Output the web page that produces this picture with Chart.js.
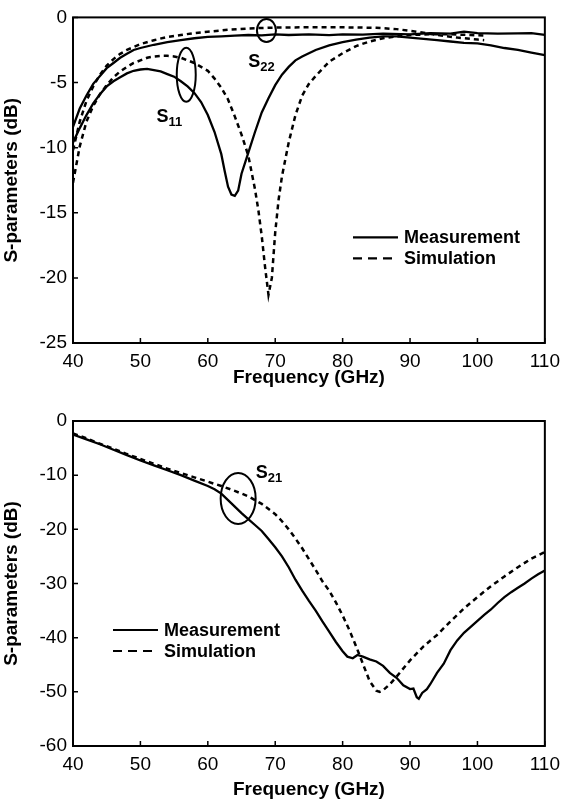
<!DOCTYPE html>
<html>
<head>
<meta charset="utf-8">
<script src="https://cdn.jsdelivr.net/npm/chart.js@4.4.1/dist/chart.umd.min.js"></script>
<style>
html, body { margin: 0; padding: 0; background: #fff; }
canvas { display: block; }
</style>
</head>
<body>
<canvas id="chartTop" width="567" height="395"></canvas>
<canvas id="chartBottom" width="567" height="406"></canvas>
<script>
// ---- top panel: S11 / S22 (dB vs GHz) ----
var s22MeasFreq = [40, 41, 42, 43, 44, 45, 46, 47, 48, 49, 50, 52, 54, 56, 58, 60, 62, 64, 66, 68, 70, 72, 75, 78, 80, 83, 86, 90, 93, 96, 98, 100, 103, 106, 108, 110];
var s22MeasDb   = [-8.4, -7.0, -6.0, -5.1, -4.5, -3.9, -3.5, -3.1, -2.8, -2.5, -2.35, -2.1, -1.9, -1.75, -1.6, -1.5, -1.45, -1.4, -1.35, -1.38, -1.3, -1.35, -1.3, -1.36, -1.3, -1.32, -1.25, -1.3, -1.2, -1.25, -1.1, -1.2, -1.25, -1.22, -1.2, -1.35];

var s11MeasFreq = [40, 41, 42, 43, 44, 45, 46, 47, 48, 49, 50, 51, 52, 53, 54, 55, 56, 57, 58, 59, 60, 61, 62, 62.5, 63, 63.5, 64, 64.5, 65, 66, 67, 68, 69, 70, 71, 72, 73, 74, 75, 76, 78, 80, 82, 84, 86, 88, 90, 92, 94, 96, 98, 100, 102, 104, 106, 108, 110];
var s11MeasDb   = [-9.6, -8.5, -7.5, -6.6, -5.9, -5.3, -4.9, -4.6, -4.3, -4.1, -4.0, -3.95, -4.05, -4.15, -4.35, -4.55, -4.9, -5.3, -5.8, -6.5, -7.5, -8.8, -10.5, -11.8, -13.0, -13.6, -13.7, -13.3, -12.0, -10.4, -8.8, -7.3, -6.2, -5.2, -4.4, -3.8, -3.3, -3.0, -2.75, -2.5, -2.15, -1.9, -1.7, -1.55, -1.45, -1.45, -1.55, -1.65, -1.75, -1.85, -1.95, -2.0, -2.15, -2.35, -2.5, -2.7, -2.9];

var s22SimFreq = [40, 41, 42, 43, 44, 45, 46, 47, 48, 50, 52, 54, 56, 58, 60, 63, 66, 70, 75, 80, 85, 88, 91, 94, 97, 100, 101];
var s22SimDb   = [-10.2, -8.0, -6.4, -5.3, -4.4, -3.7, -3.2, -2.8, -2.5, -2.05, -1.75, -1.5, -1.35, -1.2, -1.1, -0.95, -0.85, -0.78, -0.76, -0.76, -0.8, -0.9, -1.1, -1.35, -1.55, -1.7, -1.75];

var s11SimFreq = [40, 41, 42, 43, 44, 45, 46, 47, 48, 49, 50, 51, 52, 53, 54, 55, 56, 57, 58, 59, 60, 61, 62, 63, 64, 65, 66, 67, 67.5, 68, 68.5, 69, 69.5, 70, 70.5, 71, 72, 73, 74, 75, 76, 78, 80, 82, 84, 86, 88, 90, 93, 96, 99, 101];
var s11SimDb   = [-12.7, -9.9, -8.0, -6.8, -5.9, -5.2, -4.6, -4.15, -3.8, -3.5, -3.3, -3.1, -3.0, -2.95, -2.95, -3.0, -3.1, -3.3, -3.5, -3.8, -4.1, -4.7, -5.4, -6.3, -7.6, -9.0, -10.6, -13.2, -14.8, -16.8, -19.2, -21.3, -20.0, -16.5, -14.0, -12.2, -9.6, -7.5, -6.0, -5.1, -4.5, -3.4, -2.75, -2.2, -1.85, -1.6, -1.45, -1.35, -1.3, -1.3, -1.35, -1.4];

// ---- bottom panel: S21 ----
var s21MeasFreq = [40, 42, 44, 46, 48, 50, 52, 54, 56, 58, 60, 61, 62, 63, 64, 65, 66, 67, 68, 69, 70, 71, 72, 73, 74, 75, 76, 77, 78, 79, 80, 80.7, 81.5, 82.2, 83, 84, 85, 86, 87, 88, 89, 90, 90.5, 91, 91.3, 91.8, 92.5, 93, 94, 95, 96, 97, 98, 99, 100, 101, 102, 103, 104, 105, 106, 107, 108, 109, 110];
var s21MeasDb   = [-2.5, -3.4, -4.3, -5.3, -6.3, -7.3, -8.2, -9.1, -10.0, -11.0, -12.0, -12.6, -13.4, -14.6, -15.8, -17.0, -18.1, -19.2, -20.3, -21.8, -23.3, -25.0, -27.0, -29.3, -31.3, -33.2, -35.0, -37.0, -38.9, -40.8, -42.5, -43.5, -43.8, -43.2, -43.5, -44.0, -44.4, -45.2, -46.5, -47.4, -48.8, -49.5, -49.4, -51.0, -51.3, -50.2, -49.5, -48.6, -46.5, -44.8, -42.3, -40.5, -39.1, -38.0, -36.9, -35.8, -34.8, -33.6, -32.5, -31.6, -30.8, -30.0, -29.1, -28.3, -27.6];

var s21SimFreq = [40, 42, 44, 46, 48, 50, 52, 54, 56, 58, 60, 62, 64, 66, 68, 70, 71, 72, 73, 74, 75, 76, 77, 78, 79, 80, 81, 82, 83, 84, 85, 85.5, 86, 87, 88, 90, 92, 94, 96, 98, 100, 102, 104, 106, 108, 110];
var s21SimDb   = [-2.3, -3.2, -4.2, -5.1, -6.1, -7.0, -7.9, -8.8, -9.6, -10.4, -11.2, -12.0, -12.9, -13.9, -15.3, -17.2, -18.5, -20.0, -21.7, -23.5, -25.5, -27.5, -29.6, -31.3, -33.5, -35.9, -38.6, -41.6, -44.8, -48.0, -49.8, -50.0, -49.7, -48.6, -47.2, -44.2, -41.6, -39.5, -37.0, -34.6, -32.5, -30.5, -28.7, -27.0, -25.4, -24.2];

var freqTicks = [40, 50, 60, 70, 80, 90, 100, 110];

var FONT = '"Liberation Sans", Arial, Helvetica, sans-serif';

function toPoints(xs, ys) {
    return xs.map(function(x, i) { return {x: x, y: ys[i]}; });
}

function solid(label, xs, ys) {
    return { label: label, data: toPoints(xs, ys), borderColor: '#000', borderWidth: 2.3,
             pointRadius: 0, fill: false, tension: 0 };
}
function dashed(label, xs, ys) {
    return { label: label, data: toPoints(xs, ys), borderColor: '#000', borderWidth: 2.5,
             borderDash: [5, 4], pointRadius: 0, fill: false, tension: 0 };
}

// frame, inward tick marks, rings, S-labels and the legend
var marksPlugin = {
    id: 'marks',
    afterDraw: function(chart) {
        var ctx = chart.ctx, a = chart.chartArea;
        var xs = chart.scales.x, ys = chart.scales.y;
        var o = chart.options.plugins.marks;
        ctx.save();
        ctx.strokeStyle = '#000';
        ctx.fillStyle = '#000';
        ctx.lineWidth = 2;
        ctx.strokeRect(a.left, a.top, a.right - a.left, a.bottom - a.top);

        ctx.lineWidth = 1.5;
        ctx.beginPath();
        xs.ticks.forEach(function(t) {
            var px = xs.getPixelForValue(t.value);
            ctx.moveTo(px, a.bottom); ctx.lineTo(px, a.bottom - 5);
        });
        ys.ticks.forEach(function(t) {
            var py = ys.getPixelForValue(t.value);
            ctx.moveTo(a.left, py); ctx.lineTo(a.left + 5, py);
        });
        ctx.stroke();

        ctx.lineWidth = 2;
        o.rings.forEach(function(r) {
            ctx.beginPath();
            ctx.ellipse(xs.getPixelForValue(r.x), ys.getPixelForValue(r.y), r.rx, r.ry, 0, 0, 2 * Math.PI);
            ctx.stroke();
        });

        ctx.textBaseline = 'alphabetic';
        ctx.textAlign = 'left';
        o.names.forEach(function(n) {
            var px = xs.getPixelForValue(n.x), py = ys.getPixelForValue(n.y);
            ctx.font = 'bold 18px ' + FONT;
            ctx.fillText('S', px, py);
            var w = ctx.measureText('S').width;
            ctx.font = 'bold 13px ' + FONT;
            ctx.fillText(n.sub, px + w, py + 4);
        });

        // legend: one entry per distinct dataset label
        var seen = {}, row = 0;
        var lx = a.left + o.legend.dx, ly = a.top + o.legend.dy;
        chart.data.datasets.forEach(function(ds) {
            if (seen[ds.label]) return;
            seen[ds.label] = true;
            var y = ly + row * 21;
            ctx.beginPath();
            ctx.lineWidth = 2.2;
            ctx.setLineDash(ds.borderDash ? [9, 6] : []);
            ctx.moveTo(lx, y); ctx.lineTo(lx + 45, y);
            ctx.stroke();
            ctx.setLineDash([]);
            ctx.font = 'bold 18px ' + FONT;
            ctx.textBaseline = 'middle';
            ctx.fillText(ds.label, lx + 51, y + 1);
            row++;
        });
        ctx.restore();
    }
};

function makeChart(id, datasets, yMin, yStep, xAxisHeight, padTop, titlePadBottom, marks) {
    return new Chart(document.getElementById(id), {
        type: 'scatter',
        data: { datasets: datasets },
        options: {
            animation: false,
            responsive: false,
            showLine: true,
            layout: { padding: { top: padTop, right: 18, left: 0, bottom: 0 } },
            plugins: {
                legend: { display: false },
                tooltip: { enabled: false },
                marks: marks
            },
            scales: {
                x: {
                    type: 'linear',
                    min: 40, max: 110,
                    afterBuildTicks: function(s) { s.ticks = freqTicks.map(function(v) { return {value: v}; }); },
                    grid: { display: false, drawTicks: false },
                    border: { display: false },
                    ticks: { color: '#000', padding: 7, font: { family: FONT, size: 19 } },
                    title: { display: true, text: 'Frequency (GHz)', color: '#000',
                             padding: { top: 0, bottom: titlePadBottom },
                             font: { family: FONT, size: 19, weight: 'bold' } },
                    afterFit: function(s) { s.height = xAxisHeight; }
                },
                y: {
                    min: yMin, max: 0,
                    ticks: { stepSize: yStep, color: '#000', padding: 6, font: { family: FONT, size: 19 } },
                    grid: { display: false, drawTicks: false },
                    border: { display: false },
                    title: { display: true, text: 'S-parameters (dB)', color: '#000',
                             padding: { top: 0, bottom: 0 },
                             font: { family: FONT, size: 19, weight: 'bold' } },
                    afterFit: function(s) { s.width = 73; }
                }
            }
        },
        plugins: [marksPlugin]
    });
}

var chartTop = makeChart('chartTop', [
    solid('Measurement', s11MeasFreq, s11MeasDb),
    solid('Measurement', s22MeasFreq, s22MeasDb),
    dashed('Simulation', s11SimFreq, s11SimDb),
    dashed('Simulation', s22SimFreq, s22SimDb)
], -25, 5, 52, 15, 6, {
    rings: [ {x: 56.8, y: -4.4, rx: 9.5, ry: 27}, {x: 68.7, y: -1.0, rx: 9.5, ry: 11.5} ],
    names: [ {x: 52.4, y: -8.0, sub: '11'}, {x: 66.0, y: -3.8, sub: '22'} ],
    legend: { dx: 280, dy: 220 }
});

var chartBottom = makeChart('chartBottom', [
    solid('Measurement', s21MeasFreq, s21MeasDb),
    dashed('Simulation', s21SimFreq, s21SimDb)
], -60, 10, 55, 26, 0, {
    rings: [ {x: 64.5, y: -14.3, rx: 17.5, ry: 25.5} ],
    names: [ {x: 67.1, y: -10.5, sub: '21'} ],
    legend: { dx: 40, dy: 209 }
});
</script>
</body>
</html>
